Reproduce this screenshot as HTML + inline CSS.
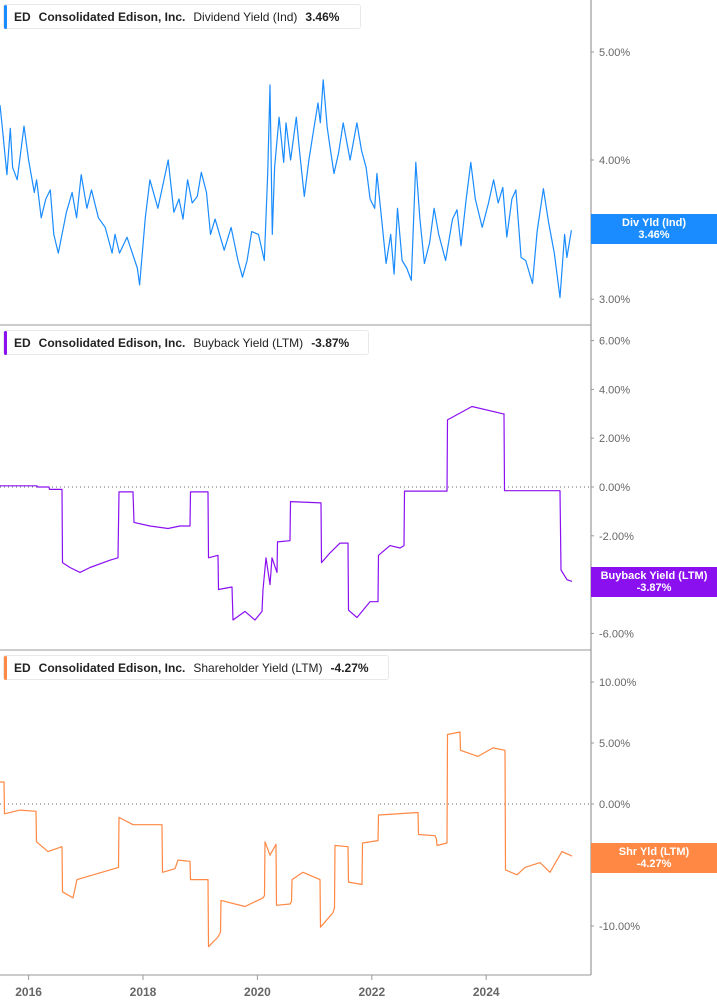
<!DOCTYPE html>
<html><head><meta charset="utf-8">
<style>
body{margin:0;background:#fff;font-family:"Liberation Sans",sans-serif;}
#wrap{position:relative;width:717px;height:1005px;overflow:hidden;}
svg{position:absolute;left:0;top:0;}
.leg{position:absolute;height:25px;background:#fff;border:1px solid #e8e8e8;border-radius:3px;font-size:12px;line-height:25px;color:#222;white-space:nowrap;box-sizing:border-box;padding-left:10px;}
.leg .bar{position:absolute;left:0;top:0;width:3px;height:24px;border-radius:2px;}
.leg b{font-weight:bold;margin-right:8px;}
.leg span{margin-right:8px;}
.badge{position:absolute;left:591px;width:126px;color:#fff;font-weight:bold;font-size:11px;text-align:center;line-height:12px;padding-top:3px;box-sizing:border-box;}
</style></head><body>
<div id="wrap">
<svg id="svg" width="717" height="1005"></svg>
<div class="leg" style="left:3px;top:4px;width:358px"><div class="bar" style="background:#1a8cff"></div><b>ED</b><b>Consolidated Edison, Inc.</b><span>Dividend Yield (Ind)</span><b>3.46%</b></div>
<div class="leg" style="left:3px;top:330px;width:366px"><div class="bar" style="background:#8b10f0"></div><b>ED</b><b>Consolidated Edison, Inc.</b><span>Buyback Yield (LTM)</span><b>-3.87%</b></div>
<div class="leg" style="left:3px;top:655px;width:386px"><div class="bar" style="background:#ff8844"></div><b>ED</b><b>Consolidated Edison, Inc.</b><span>Shareholder Yield (LTM)</span><b>-4.27%</b></div>
<div class="badge" style="top:214px;height:30px;background:#1a8cff">Div Yld (Ind)<br>3.46%</div>
<div class="badge" style="top:567px;height:30px;background:#8b10f0">Buyback Yield (LTM)<br>-3.87%</div>
<div class="badge" style="top:843px;height:30px;background:#ff8844">Shr Yld (LTM)<br>-4.27%</div>
</div>
<script>
const divDates=[2015.50,2015.54,2015.62,2015.68,2015.72,2015.80,2015.92,2016.00,2016.10,2016.14,2016.22,2016.30,2016.38,2016.44,2016.52,2016.66,2016.76,2016.84,2016.92,2017.02,2017.10,2017.22,2017.34,2017.46,2017.51,2017.59,2017.72,2017.90,2017.94,2018.04,2018.12,2018.26,2018.44,2018.54,2018.63,2018.70,2018.78,2018.86,2018.95,2019.02,2019.11,2019.18,2019.26,2019.42,2019.54,2019.66,2019.74,2019.82,2019.90,2020.02,2020.12,2020.18,2020.22,2020.26,2020.30,2020.38,2020.46,2020.50,2020.58,2020.68,2020.74,2020.82,2020.90,2020.98,2021.06,2021.10,2021.15,2021.22,2021.27,2021.34,2021.42,2021.50,2021.62,2021.74,2021.82,2021.90,2021.97,2022.05,2022.09,2022.17,2022.25,2022.33,2022.39,2022.45,2022.53,2022.61,2022.69,2022.77,2022.84,2022.92,2023.01,2023.09,2023.17,2023.29,2023.41,2023.49,2023.56,2023.65,2023.73,2023.81,2023.93,2024.04,2024.13,2024.21,2024.29,2024.36,2024.45,2024.52,2024.61,2024.69,2024.81,2024.89,2025.00,2025.09,2025.19,2025.29,2025.37,2025.41,2025.49];
const divVals=[4.48,4.28,3.88,4.27,3.94,3.84,4.29,4.00,3.74,3.84,3.55,3.69,3.76,3.43,3.30,3.59,3.74,3.55,3.88,3.62,3.76,3.55,3.48,3.30,3.43,3.30,3.41,3.20,3.09,3.55,3.84,3.62,4.00,3.59,3.69,3.54,3.84,3.66,3.71,3.90,3.74,3.43,3.54,3.32,3.48,3.25,3.14,3.25,3.45,3.43,3.25,3.89,4.67,3.43,3.94,4.37,3.98,4.32,4.00,4.37,4.06,3.71,4.00,4.25,4.50,4.32,4.72,4.28,4.11,3.89,4.06,4.32,4.00,4.32,4.08,3.94,3.69,3.62,3.89,3.55,3.23,3.43,3.16,3.62,3.25,3.20,3.12,3.98,3.55,3.23,3.37,3.62,3.43,3.25,3.54,3.61,3.35,3.69,3.98,3.69,3.48,3.66,3.84,3.66,3.78,3.41,3.69,3.76,3.27,3.25,3.10,3.45,3.77,3.52,3.30,3.01,3.43,3.27,3.46];
const bbDates=[0,37,37.5,49,49.5,62,62.5,70,80,90,110,118,119,133,134,150,168,180,190,190.5,208,208.5,218,218.5,232,233,245,255,262,263,266,270,272,277,277.5,290,290.5,321,321.5,330,340,348,348.5,357,370,378,378.5,390,400,404,404.5,447,447.5,472,503,504,504.5,560,561,567,572].map(x=>+(2015.5+x/57.2).toFixed(3));
const bbVals=[0.05,0.05,0,0,-0.1,-0.1,-3.1,-3.3,-3.5,-3.3,-3.0,-2.9,-0.2,-0.2,-1.45,-1.6,-1.7,-1.6,-1.6,-0.2,-0.2,-2.9,-2.8,-4.2,-4.1,-5.45,-5.1,-5.45,-5.1,-4.2,-2.9,-4.0,-2.9,-3.5,-2.25,-2.2,-0.6,-0.65,-3.1,-2.7,-2.3,-2.3,-5.05,-5.35,-4.7,-4.7,-2.8,-2.4,-2.5,-2.4,-0.17,-0.17,2.75,3.3,3.0,3.0,-0.15,-0.15,-3.4,-3.8,-3.87];
const shDates=[0,4,4.5,20,36,36.5,48,62,62.5,73,77,110,118.5,119,133,162,162.5,175,178,190,190.5,208,208.5,218,220.5,221,245,263,264.5,265,270,276,276.5,290,291.5,292,303,320,320.5,333,334.5,335,348,348.5,362,362.5,378,378.5,418,418.5,435,436.5,437,447,447.5,460,460.5,478,493,505,505.5,517,525,540,550,557,562,572].map(x=>+(2015.5+x/57.2).toFixed(3));
const shVals=[1.8,1.8,-0.8,-0.5,-0.6,-3.1,-3.9,-3.5,-7.2,-7.7,-6.2,-5.4,-5.2,-1.1,-1.7,-1.7,-5.6,-5.3,-4.6,-4.7,-6.2,-6.2,-11.7,-10.9,-10.5,-7.9,-8.4,-7.7,-7.5,-3.1,-4.2,-3.3,-8.3,-8.2,-8.0,-6.2,-5.6,-6.2,-10.1,-8.9,-8.5,-3.4,-3.5,-6.4,-6.6,-3.2,-3.0,-0.9,-0.7,-2.5,-2.6,-2.9,-3.4,-3.2,5.7,5.9,4.4,3.9,4.6,4.4,-5.4,-5.8,-5.2,-4.8,-5.6,-4.6,-3.9,-4.27];
const yearTicks=[2016,2018,2020,2022,2024];
const divTicks=[5,4,3];
const bbTicks=[6,4,2,0,-2,-4,-6];
const shTicks=[10,5,0,-5,-10];

const NS="http://www.w3.org/2000/svg";
const svg=document.getElementById('svg');
function mk(t,a){const e=document.createElementNS(NS,t);for(const k in a)e.setAttribute(k,a[k]);svg.appendChild(e);return e;}
const xS=d=>(d-2015.5)*57.2;
const yDiv=v=>160-484*Math.log(v/4);
const yBB=v=>487-24.4*v;
const ySH=v=>804-12.2*v;

function axisLabels(ticks,yf,fmt,name){
  ticks.forEach(t=>{
    const y=yf(t);
    const tk=mk('line',{x1:591,x2:594,y1:y,y2:y,stroke:'#999'});
    
    
    const tx=mk('text',{x:599,y:y+4,'font-size':11,fill:'#666','font-family':'Liberation Sans, sans-serif'});
    tx.textContent=fmt(t);
    
    
  });
}
function line(dates,vals,yf,color,name){
  const d=dates.map((x,i)=>(i?'L':'M')+xS(x).toFixed(1)+','+yf(vals[i]).toFixed(1)).join('');
  const p=mk('path',{d:d,fill:'none',stroke:color,'stroke-width':1.2,'stroke-linejoin':'round'});
  
  
}
[325,650,975].forEach(y=>{const l=mk('line',{x1:0,x2:591,y1:y,y2:y,stroke:'#bbb','stroke-width':1.5});

});
const va=mk('line',{x1:591,x2:591,y1:0,y2:975,stroke:'#999','stroke-width':1.2});


[487,804].forEach(y=>{const l=mk('line',{x1:0,x2:590,y1:y,y2:y,stroke:'#666','stroke-width':1,'stroke-dasharray':'1,3'});

});
axisLabels(divTicks,yDiv,t=>t.toFixed(2)+'%','div-axis');
axisLabels(bbTicks,yBB,t=>t.toFixed(2)+'%','buyback-axis');
axisLabels(shTicks,ySH,t=>t.toFixed(2)+'%','shareholder-axis');
yearTicks.forEach(yr=>{
  const x=xS(yr);
  const tk=mk('line',{x1:x,x2:x,y1:975,y2:980,stroke:'#999'});
  
  
  const t=mk('text',{x:x,y:996,'font-size':12,'font-weight':'bold',fill:'#666','text-anchor':'middle','font-family':'Liberation Sans, sans-serif'});
  t.textContent=yr;
  
  
});
line(divDates,divVals,yDiv,'#1a8cff','dividend-yield-line');
line(bbDates,bbVals,yBB,'#8b10f0','buyback-yield-line');
line(shDates,shVals,ySH,'#ff8844','shareholder-yield-line');
</script>
</body></html>
